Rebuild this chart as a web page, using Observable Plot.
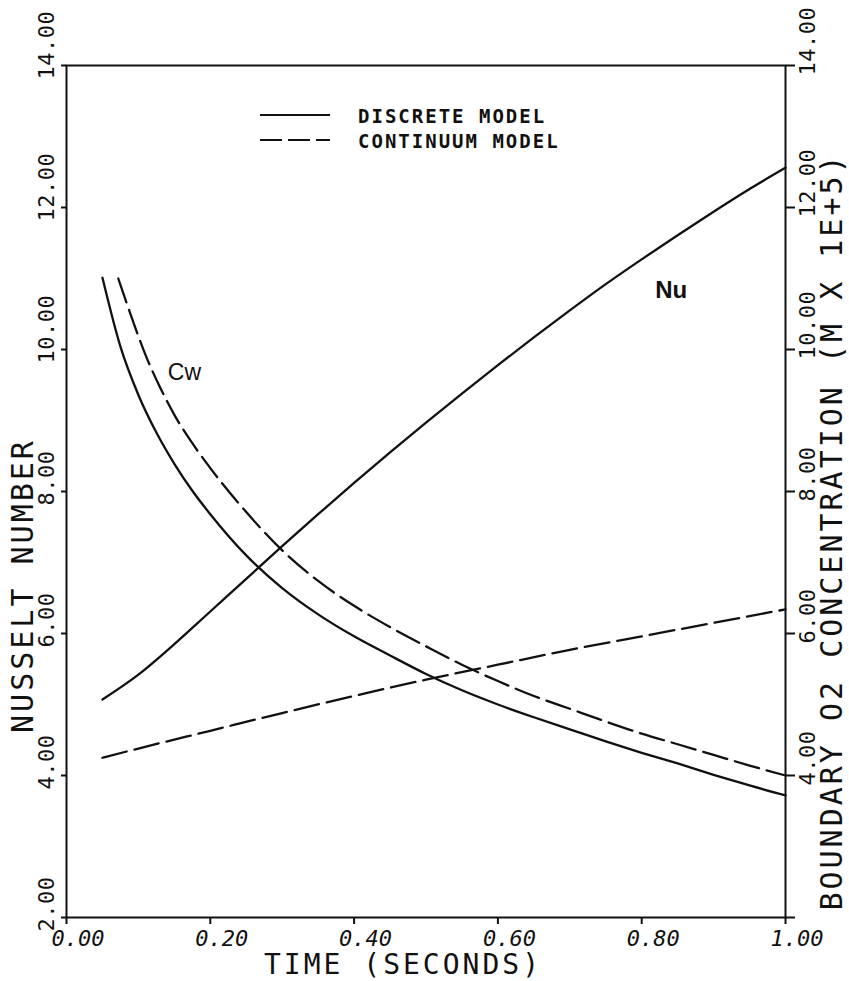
<!DOCTYPE html>
<html><head><meta charset="utf-8">
<script src="https://cdn.jsdelivr.net/npm/d3@7"></script>
<script src="https://cdn.jsdelivr.net/npm/@observablehq/plot@0.6"></script>
<style>
html,body{margin:0;padding:0;background:#fff;}
#chart{position:relative;width:849px;height:981px;overflow:hidden;}
</style></head><body><div id="chart"></div>
<script>
// ---- data ----
const tNuDiscrete = [0.05,0.10,0.15,0.20,0.25,0.30,0.35,0.40,0.45,0.50,0.55,0.60,0.65,0.70,0.75,0.80,0.85,0.90,0.95,1.00];
const nuDiscrete  = [5.07,5.42,5.85,6.31,6.77,7.23,7.68,8.12,8.55,8.97,9.38,9.78,10.17,10.55,10.92,11.27,11.61,11.94,12.26,12.56];

const tNuContinuum = [0.05,0.10,0.20,0.30,0.40,0.50,0.60,0.70,0.80,0.90,1.00];
const nuContinuum  = [4.25,4.38,4.63,4.88,5.12,5.35,5.56,5.77,5.96,6.15,6.34];

const tCwDiscrete = [0.05,0.075,0.10,0.125,0.15,0.175,0.20,0.25,0.30,0.35,0.40,0.45,0.50,0.55,0.60,0.65,0.70,0.75,0.80,0.85,0.90,0.95,1.00];
const cwDiscrete  = [11.01,10.04,9.36,8.83,8.39,8.01,7.68,7.10,6.64,6.27,5.96,5.69,5.43,5.20,5.00,4.82,4.65,4.48,4.32,4.17,4.01,3.86,3.72];

const tCwContinuum = [0.072,0.09,0.11,0.13,0.15,0.175,0.20,0.25,0.30,0.35,0.40,0.45,0.50,0.55,0.60,0.65,0.70,0.75,0.80,0.85,0.90,0.95,1.00];
const cwContinuum  = [11.00,10.47,9.92,9.47,9.08,8.68,8.33,7.71,7.17,6.74,6.39,6.09,5.82,5.56,5.33,5.12,4.94,4.76,4.59,4.44,4.29,4.14,4.00];

const xTicks = [0, 0.2, 0.4, 0.6, 0.8, 1.0];
const yTicksLeft = [2, 4, 6, 8, 10, 12, 14];
const yTicksRight = [2, 4, 6, 8, 10, 12, 14];
const yLabelsRight = [4, 6, 8, 10, 12, 14];

const xTitle = "TIME (SECONDS)";
const yTitleLeft = "NUSSELT NUMBER";
const yTitleRight = "BOUNDARY O2 CONCENTRATION (M X 1E+5)";
const legendLabels = ["DISCRETE MODEL", "CONTINUUM MODEL"];
const cwLabel = [{label: "Cw", t: 0.164, v: 9.68}];
const nuLabel = [{label: "Nu", t: 0.841, v: 10.83}];

const zip = (ts, vs) => ts.map((t, i) => ({t, v: vs[i]}));
const FONT = "DejaVu Sans Mono, monospace";
const SANS = "Liberation Sans, Arial, sans-serif";
const fmt = d3.format(".2f");
const INK = "#111";

const chart = Plot.plot({
  width: 849, height: 981,
  marginLeft: 66, marginRight: 64, marginTop: 65, marginBottom: 64,
  style: {background: "#fff", color: INK, fontFamily: FONT, overflow: "visible"},
  x: {domain: [0, 1]},
  y: {domain: [2, 14]},
  marks: [
    Plot.frame({stroke: INK, strokeWidth: 2}),
    Plot.axisY(yTicksLeft, {anchor: "left", tickSize: 5, strokeWidth: 2, tickFormat: () => "", label: null}),
    Plot.axisY(yTicksRight, {anchor: "right", tickSize: 9, strokeWidth: 2, tickFormat: () => "", label: null}),
    Plot.axisX(xTicks, {anchor: "bottom", tickSize: 7, strokeWidth: 2, tickFormat: () => "", label: null}),
    // curves
    Plot.line(zip(tNuDiscrete, nuDiscrete), {x: "t", y: "v", stroke: INK, strokeWidth: 2.3, curve: "monotone-x"}),
    Plot.line(zip(tNuContinuum, nuContinuum), {x: "t", y: "v", stroke: INK, strokeWidth: 2.3, strokeDasharray: "25,8", curve: "monotone-x"}),
    Plot.line(zip(tCwDiscrete, cwDiscrete), {x: "t", y: "v", stroke: INK, strokeWidth: 2.3, curve: "monotone-x"}),
    Plot.line(zip(tCwContinuum, cwContinuum), {x: "t", y: "v", stroke: INK, strokeWidth: 2.3, strokeDasharray: "25,8", curve: "monotone-x"}),
    // tick labels (rotated ones are offset after rendering, in screen pixels)
    Plot.text(yTicksLeft, {y: d => d, text: d => fmt(d), frameAnchor: "left", rotate: -90, textAnchor: "start",
      lineAnchor: "middle", fontSize: 22, fill: INK}),
    Plot.text(yLabelsRight, {y: d => d, text: d => fmt(d), frameAnchor: "right", rotate: -90, textAnchor: "start",
      lineAnchor: "middle", fontSize: 22, fill: INK}),
    Plot.text(xTicks, {x: d => d, text: d => fmt(d), frameAnchor: "bottom", textAnchor: "start", lineAnchor: "middle",
      dx: -15, dy: 21, fontSize: 22, fontStyle: "oblique", fill: INK}),
    // axis titles
    Plot.text([yTitleLeft], {text: d => d, frameAnchor: "left", rotate: -90, textAnchor: "middle", lineAnchor: "middle", fontSize: 30, fill: INK}),
    Plot.text([yTitleRight], {text: d => d, frameAnchor: "right", rotate: -90, textAnchor: "middle", lineAnchor: "middle", fontSize: 30, fill: INK}),
    Plot.text([xTitle], {text: d => d, frameAnchor: "bottom", textAnchor: "middle", lineAnchor: "middle", dx: -23, dy: 48, fontSize: 28, fill: INK}),
    // curve annotations
    Plot.text(cwLabel, {x: "t", y: "v", text: "label", fontSize: 23, fontFamily: SANS, fill: INK}),
    Plot.text(nuLabel, {x: "t", y: "v", text: "label", fontSize: 24, fontWeight: "bold", fontFamily: SANS, fill: INK})
  ]
});

const svg = d3.select(chart);
// screen-space offsets for the rotated texts
svg.selectAll("text").each(function () {
  const tr = this.getAttribute("transform") || "";
  if (!/rotate\(-90\)/.test(tr)) return;
  const m = /translate\(([-\d.e]+),\s*([-\d.e]+)\)/.exec(tr);
  const px = m ? +m[1] : 0;
  const s = this.textContent;
  let off;
  if (s === yTitleLeft) off = [-43, 94];
  else if (s === yTitleRight) off = [47, 40];
  else if (px < 400) off = [-20, 14];
  else off = [22, 10];
  this.setAttribute("transform", `translate(${off[0]},${off[1]}) ` + tr);
  if (s === yTitleLeft || s === yTitleRight) this.setAttribute("letter-spacing", "3px");
  else this.setAttribute("letter-spacing", "0.5px");
});
svg.selectAll("text").filter(function () { return this.textContent === xTitle; }).attr("letter-spacing", "3px");

// legend
const lg = svg.append("g").attr("aria-label", "legend");
const dashes = [null, "22,6"];
legendLabels.forEach((lab, i) => {
  const y = 115 + i * 25;
  lg.append("line").attr("x1", 260).attr("x2", 330).attr("y1", y).attr("y2", y)
    .attr("stroke", INK).attr("stroke-width", 2.2).attr("stroke-dasharray", dashes[i]);
  lg.append("text").attr("x", 358).attr("y", y + 8).text(lab)
    .attr("text-anchor", "start")
    .attr("font-family", FONT).attr("font-size", 19).attr("font-weight", "bold")
    .attr("letter-spacing", "2px").attr("fill", INK);
});
document.getElementById("chart").appendChild(chart);
</script>
</body></html>
